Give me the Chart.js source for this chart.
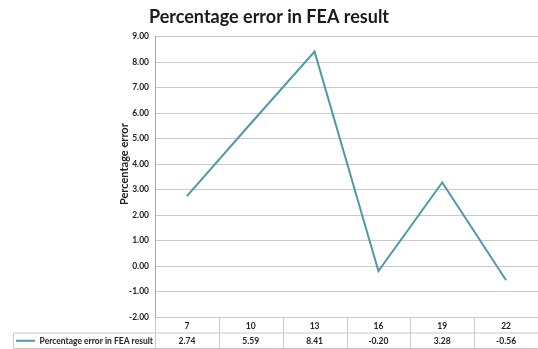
<!DOCTYPE html>
<html>
<head>
<meta charset="utf-8">
<script src="https://cdn.jsdelivr.net/npm/chart.js@4.4.1/dist/chart.umd.min.js"></script>
<style>
  html, body { margin: 0; padding: 0; background: #fff; }
  #wrap { width: 538px; height: 349px; }
</style>
</head>
<body>
<div id="wrap"><canvas id="chart"></canvas></div>
<script>
var categories = ['7', '10', '13', '16', '19', '22'];
var errorValues = [2.74, 5.59, 8.41, -0.20, 3.28, -0.56];
var seriesName = 'Percentage error in FEA result';
var yAxisName = 'Percentage error';
var yMin = -2, yMax = 9, yStep = 1;

var lineColor = '#4f9aa8';
var gridColor = '#c9c9c9';
var textColor = '#222222';
var fontFamily = 'Lato, "DejaVu Sans", sans-serif';

// y title sits a little above the middle of the axis, so it is drawn here
var axisTitle = {
  id: 'axisTitle',
  afterDraw: function (chart) {
    var ctx = chart.ctx;
    var area = chart.chartArea;
    ctx.save();
    ctx.translate(124.5, area.top + (area.bottom - area.top) * 0.455);
    ctx.rotate(-Math.PI / 2);
    ctx.fillStyle = textColor;
    ctx.font = 'bold 11px ' + fontFamily;
    ctx.textAlign = 'center';
    ctx.textBaseline = 'middle';
    ctx.fillText(yAxisName, 0, 0);
    ctx.restore();
  }
};

// data table under the plot: category row, then legend key + values row
var dataTable = {
  id: 'dataTable',
  afterDraw: function (chart) {
    var ctx = chart.ctx;
    var area = chart.chartArea;
    var xs = chart.scales.x;
    var n = categories.length;
    var colW = (area.right - area.left) / n;
    var top = Math.round(area.bottom) + 0.5;
    var rowH = 15.5;
    var legendLeft = 13.5;

    ctx.save();
    ctx.strokeStyle = gridColor;
    ctx.lineWidth = 1;
    ctx.beginPath();
    ctx.moveTo(legendLeft, top + rowH); ctx.lineTo(area.right, top + rowH);
    ctx.moveTo(legendLeft, top + 2 * rowH); ctx.lineTo(area.right, top + 2 * rowH);
    ctx.moveTo(legendLeft, top + rowH); ctx.lineTo(legendLeft, top + 2 * rowH);
    for (var k = 0; k <= n; k++) {
      var vx = Math.round(area.left + k * colW) + 0.5;
      ctx.moveTo(vx, top); ctx.lineTo(vx, top + 2 * rowH);
    }
    ctx.stroke();

    ctx.fillStyle = textColor;
    ctx.font = 'bold 8.5px ' + fontFamily;
    ctx.textAlign = 'center';
    ctx.textBaseline = 'middle';
    for (var i = 0; i < n; i++) {
      var cx = xs.getPixelForValue(i);
      ctx.fillText(categories[i], cx, top + rowH / 2 + 1);
      ctx.fillText(errorValues[i].toFixed(2), cx, top + rowH * 1.5 + 1);
    }

    // legend key in the first cell of the values row
    var ky = top + rowH * 1.5;
    ctx.strokeStyle = lineColor;
    ctx.lineWidth = 2;
    ctx.beginPath();
    ctx.moveTo(16, ky); ctx.lineTo(35, ky);
    ctx.stroke();
    ctx.textAlign = 'right';
    ctx.fillText(seriesName, area.left - 2, ky + 1);
    ctx.restore();
  }
};

var config = {
  type: 'line',
  data: {
    labels: categories,
    datasets: [{
      label: seriesName,
      data: errorValues,
      borderColor: lineColor,
      borderWidth: 2,
      pointRadius: 0,
      tension: 0,
      fill: false
    }]
  },
  options: {
    responsive: true,
    maintainAspectRatio: false,
    animation: false,
    layout: { padding: { left: 0, right: 0, top: 0, bottom: 32 } },
    plugins: {
      legend: { display: false },
      tooltip: { enabled: false },
      title: {
        display: true,
        text: 'Percentage error in FEA result',
        color: '#1a1a1a',
        font: { family: fontFamily, size: 18, weight: 'bold' },
        padding: { top: 6, bottom: 9 }
      }
    },
    scales: {
      x: {
        display: false,
        offset: true
      },
      y: {
        min: yMin,
        max: yMax,
        afterFit: function (scale) { scale.width = 155; },
        ticks: {
          stepSize: yStep,
          padding: 6,
          color: textColor,
          font: { family: fontFamily, size: 8.5, weight: 'bold' },
          callback: function (v) { return v.toFixed(2); }
        },
        grid: { color: gridColor, drawTicks: false },
        border: { color: '#a8a8a8' }
      }
    }
  },
  plugins: [dataTable, axisTitle]
};

window.onload = function () {
  var ctx = document.getElementById('chart');
  window.myChart = new Chart(ctx, config);
};
</script>
</body>
</html>
